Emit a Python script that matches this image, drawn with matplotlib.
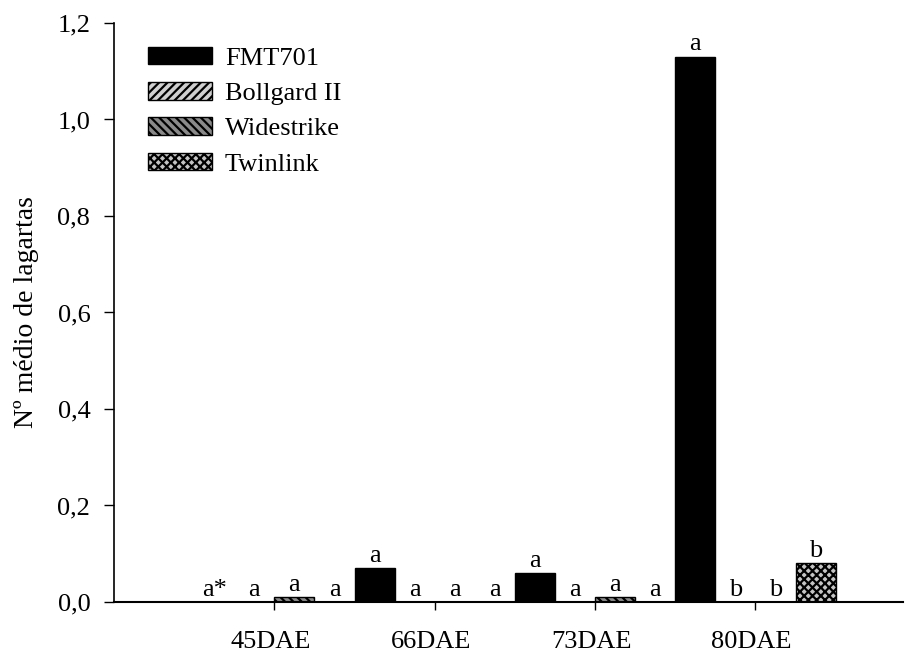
import matplotlib
matplotlib.use("Agg")
import matplotlib.pyplot as plt
from matplotlib.transforms import ScaledTranslation
import numpy as np

plt.rcParams["font.family"] = ["Liberation Serif", "DejaVu Serif"]
plt.rcParams["hatch.linewidth"] = 1.6

# data
groups = ["45DAE", "66DAE", "73DAE", "80DAE"]
series = ["FMT701", "Bollgard II", "Widestrike", "Twinlink"]
fmt701 = [0.0, 0.07, 0.06, 1.13]
bollgard = [0.0, 0.0, 0.0, 0.0]
widestrike = [0.01, 0.0, 0.01, 0.0]
twinlink = [0.0, 0.0, 0.0, 0.08]
letters = [
    ["a*", "a", "a", "a"],
    ["a", "a", "a", "b"],
    ["a", "a", "a", "b"],
    ["a", "a", "a", "b"],
]
yticks = [0.0, 0.2, 0.4, 0.6, 0.8, 1.0, 1.2]

FS = 19
styles = [
    dict(color="black", hatch=None),
    dict(color="#cfcfcf", hatch="////"),
    dict(color="#8a8a8a", hatch="\\\\\\\\"),
    dict(color="#c4c4c4", hatch="xxxx"),
]

fig = plt.figure(figsize=(9.06, 6.53), dpi=100)
ax = fig.add_axes([0.1258, 0.0781, 0.8709, 0.8867])

x = np.arange(1, len(groups) + 1)
w = 0.25
for i, (vals, name, st) in enumerate(zip([fmt701, bollgard, widestrike, twinlink],
                                           series, styles)):
    xs = x + (i - 1.5) * w
    ax.bar(xs, vals, width=w, facecolor=st["color"], edgecolor="black",
           hatch=st["hatch"], linewidth=1.0, label=name)
    for xi, v, lab in zip(xs, vals, letters[i]):
        ax.annotate(lab, (xi, v), xytext=(0, 1), textcoords="offset points",
                    ha="center", va="bottom", fontsize=FS)

ax.set_xlim(0, 4.92)
ax.set_ylim(0, 1.2)
ax.spines["top"].set_visible(False)
ax.spines["right"].set_visible(False)
ax.spines["left"].set_linewidth(1.2)
ax.spines["bottom"].set_linewidth(1.5)

ax.set_xticks(x)
ax.set_xticklabels(groups, fontsize=FS)
ax.set_yticks(yticks)
ax.set_yticklabels([f"{t:.1f}".replace(".", ",") for t in yticks], fontsize=FS)
ax.tick_params(axis="x", direction="out", length=6, width=1, pad=15)
ax.tick_params(axis="y", direction="out", length=7, width=1, pad=10)

# group labels sit slightly left of the tick marks
shift = ScaledTranslation(-4 / 100, 0, fig.dpi_scale_trans)
for lbl in ax.get_xticklabels():
    lbl.set_transform(lbl.get_transform() + shift)

ax.set_ylabel("Nº médio de lagartas", fontsize=20, labelpad=13)

ax.legend(loc="upper left", bbox_to_anchor=(0.03, 0.977), frameon=False,
          fontsize=FS, handlelength=2.4, handleheight=0.65,
          labelspacing=0.46, handletextpad=0.5, borderaxespad=0)

fig.savefig("out.png", dpi=100)
